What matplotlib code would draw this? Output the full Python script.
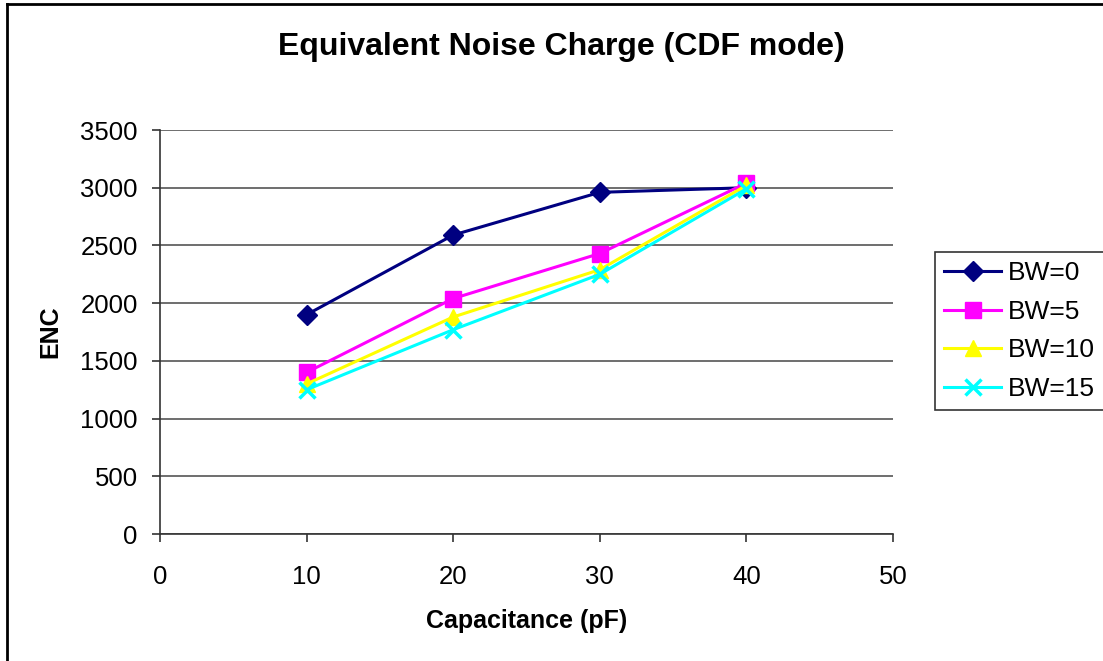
import matplotlib.pyplot as plt
from matplotlib.lines import Line2D

plt.rcParams['font.family'] = ['Liberation Sans', 'DejaVu Sans']

# Data
capacitance = [10, 20, 30, 40]
bw0 = [1900, 2590, 2960, 3000]
bw5 = [1400, 2040, 2430, 3040]
bw10 = [1300, 1880, 2290, 3020]
bw15 = [1250, 1770, 2250, 2990]

series = [
    ('BW=0', bw0, '#000080', 'D', 10),
    ('BW=5', bw5, '#ff00ff', 's', 11),
    ('BW=10', bw10, '#ffff00', '^', 11),
    ('BW=15', bw15, '#00ffff', 'x', 11),
]

fig = plt.figure(figsize=(11.03, 6.61), dpi=100)
fig.patch.set_facecolor('white')
ax = fig.add_axes([160 / 1103, 1 - 534 / 661, (893 - 160) / 1103, (534 - 130) / 661])

for label, vals, color, marker, ms in series:
    kw = dict(color=color, linewidth=2.2, marker=marker, markersize=ms, label=label,
              markerfacecolor=color, markeredgecolor=color)
    if marker == 'x':
        kw['markeredgewidth'] = 2.5
    ax.plot(capacitance, vals, **kw)

ax.set_xlim(0, 50)
ax.set_ylim(0, 3500)
ax.set_xticks(range(0, 51, 10))
ax.set_yticks(range(0, 3501, 500))
ax.grid(axis='y', color='#555555', linewidth=1.2)
ax.set_axisbelow(True)

for side in ('top', 'right'):
    ax.spines[side].set_visible(False)
for side in ('left', 'bottom'):
    ax.spines[side].set_color('#333333')
    ax.spines[side].set_linewidth(1.2)
ax.tick_params(axis='both', direction='out', length=6, width=1.2, color='#333333',
               labelsize=18.5)
ax.tick_params(axis='x', pad=16)
ax.tick_params(axis='y', pad=10)

ax.set_xlabel('Capacitance (pF)', fontsize=18, fontweight='bold', labelpad=15)
ax.set_ylabel('ENC', fontsize=18, fontweight='bold', labelpad=13)

fig.text(561 / 1103, 1 - 55 / 661, 'Equivalent Noise Charge (CDF mode)',
         ha='center', va='baseline', fontsize=23, fontweight='bold')

leg = ax.legend(loc='center left', bbox_to_anchor=(935 / 1103, 1 - 331 / 661),
                bbox_transform=fig.transFigure, fontsize=19, frameon=True,
                fancybox=False, edgecolor='#000000', borderpad=0.35,
                handlelength=2.15, handletextpad=0.25, labelspacing=0.55,
                borderaxespad=0)
leg.get_frame().set_linewidth(1.2)

# chart border (left and top edges visible)
fig.add_artist(Line2D([7 / 1103, 7 / 1103], [0, 1 - 4 / 661], color='black',
                      linewidth=2, transform=fig.transFigure))
fig.add_artist(Line2D([7 / 1103, 1], [1 - 4 / 661, 1 - 4 / 661], color='black',
                      linewidth=2, transform=fig.transFigure))

fig.savefig('out.png', dpi=100, facecolor='white')
